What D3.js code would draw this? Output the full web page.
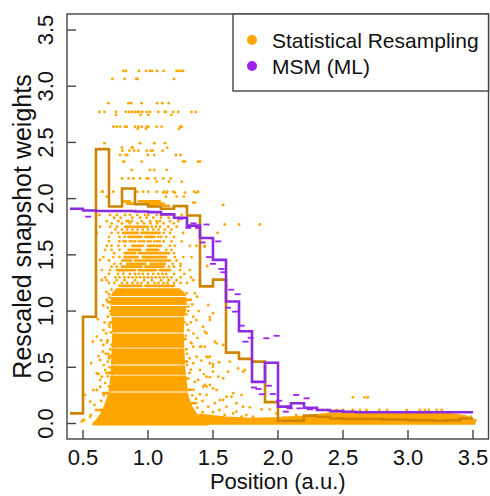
<!DOCTYPE html>
<html>
<head>
<meta charset="utf-8">
<script src="https://cdn.jsdelivr.net/npm/d3@7"></script>
<style>
  body { margin: 0; background: #fff; }
  svg { display: block; font-family: "Liberation Sans", Arial, sans-serif; }
</style>
</head>
<body>
<svg id="chart" width="490" height="496"></svg>
<script>
// step histograms (left bin edges, width 0.1)
const binStarts = [0.4, 0.5, 0.6, 0.7, 0.8, 0.9, 1.0, 1.1, 1.2, 1.3, 1.4, 1.5, 1.6, 1.7, 1.8, 1.9,
  2.0, 2.1, 2.2, 2.3, 2.4, 2.5, 2.6, 2.7, 2.8, 2.9, 3.0, 3.1, 3.2, 3.3, 3.4, 3.5]
const resamplingStep = [0.09, 0.95, 2.44, 1.93, 2.09, 1.95, 1.93, 1.91, 1.935, 1.85, 1.22, 1.28, 0.63, 0.575, 0.55, 0.19,
  0.025, 0.025, 0.07, 0.06, 0.045, 0.04, 0.04, 0.04, 0.035, 0.035, 0.03, 0.03, 0.025, 0.03, 0.045, 0.045]
const msmStep = [1.91, 1.895, 1.89, 1.89, 1.89, 1.885, 1.88, 1.86, 1.83, 1.76, 1.65, 1.455, 1.085, 0.82, 0.37, 0.54,
  0.15, 0.18, 0.14, 0.12, 0.11, 0.105, 0.1, 0.1, 0.1, 0.1, 0.1, 0.1, 0.1, 0.1, 0.1, 0.1]

// dense cloud of resampled snapshots: [y, xLeft, xRight]
const denseCore = [
  [-0.005, 0.58, 1.46], [0.03, 0.61, 1.42], [0.08, 0.64, 1.37], [0.15, 0.67, 1.33],
  [0.25, 0.70, 1.30], [0.35, 0.715, 1.29], [0.50, 0.725, 1.275], [0.65, 0.73, 1.27],
  [0.80, 0.735, 1.265], [0.95, 0.73, 1.27], [1.05, 0.72, 1.29], [1.15, 0.73, 1.28],
  [1.19, 0.76, 1.24]
]
// weight levels with no snapshots inside the dense cloud (white hairlines)
const coreGaps = [0.28, 0.43, 0.52, 0.67, 0.805, 0.95, 1.05, 1.13]
// low weight tail: [x, yTop]
const tailBand = [
  [1.40, 0.075], [1.6, 0.05], [1.8, 0.04], [2.0, 0.045], [2.2, 0.06], [2.4, 0.085],
  [2.6, 0.09], [3.0, 0.09], [3.3, 0.085], [3.45, 0.06], [3.51, 0.02]
]
// horizontal streaks of merged points: [y, x0, x1]
const streaks = [
  [1.975, 0.81, 0.86], [1.975, 0.93, 1.09], [1.955, 0.84, 0.90], [1.955, 0.98, 1.12],
  [1.935, 1.02, 1.06], [1.935, 1.12, 1.16], [1.75, 0.823, 1.0], [1.695, 0.81, 0.92],
  [1.695, 0.95, 1.09], [1.66, 0.85, 0.95], [1.66, 0.98, 1.05],
  [1.58, 0.88, 0.96], [1.58, 1.0, 1.10], [1.545, 0.85, 0.94], [1.545, 0.99, 1.08],
  [1.515, 0.82, 0.90], [1.515, 0.93, 1.16], [1.48, 0.82, 0.92], [1.48, 0.96, 1.14],
  [1.45, 0.80, 0.87], [1.45, 0.90, 1.17], [1.42, 0.84, 0.98], [1.42, 1.02, 1.13],
  [1.395, 0.80, 0.95], [1.395, 0.98, 1.12], [1.365, 0.76, 0.90], [1.365, 0.93, 1.06],
  [1.365, 1.09, 1.17], [1.225, 0.78, 0.95], [1.225, 0.98, 1.20],
  // ragged edges of the dense cloud
  [0.12, 0.60, 0.64], [0.27, 0.655, 0.69], [0.45, 0.68, 0.72], [0.60, 0.70, 0.73],
  [0.90, 0.71, 0.74], [1.08, 0.69, 0.72], [0.30, 1.29, 1.33], [0.55, 1.26, 1.30],
  [0.75, 1.25, 1.29], [0.90, 1.25, 1.28], [1.10, 1.28, 1.33], [0.18, 1.33, 1.37],
  [0.05, 1.40, 1.48], [0.40, 1.27, 1.31], [0.70, 0.72, 0.745], [1.0, 0.71, 0.74]
]
// rows of single points: [y, [x...]]
const dotRows = [
  [3.136, [0.81, 0.83, 0.93, 0.985, 1.015, 1.03, 1.07, 1.12, 1.22, 1.24, 1.26, 1.27]],
  [3.065, [0.726, 0.82, 0.91, 0.92, 1.2]],
  [2.849, [0.695, 0.85, 0.87, 0.95, 1.07, 1.11, 1.16]],
  [2.771, [0.626, 0.665, 0.754, 0.829, 0.854, 0.875, 0.9, 0.92, 0.931, 0.956, 0.99, 1.015, 1.079, 1.13, 1.138, 1.194, 1.233, 1.335, 1.368]],
  [2.745, [0.754, 0.944, 1.002, 1.18]],
  [2.64, [0.734, 0.76, 0.785, 0.823, 0.836, 0.9, 0.926, 0.952, 0.99, 1.003, 1.067, 1.105, 1.246, 1.258]],
  [2.62, [0.921, 0.985, 1.24]],
  [2.493, [0.665, 0.939, 1.048, 1.13]],
  [2.454, [0.8, 0.875, 0.883, 1.148]],
  [2.427, [0.803, 0.857, 0.893, 0.926, 0.99, 1.021, 1.036, 1.113]],
  [2.389, [0.785, 0.829, 0.841, 0.998, 1.048, 1.215, 1.251]],
  [2.33, [0.81, 0.816, 0.952, 1.27, 1.284, 1.386, 1.4]],
  [2.255, [0.875, 1.015, 1.048, 1.143]],
  [2.18, [0.8, 0.85, 0.888, 0.939, 0.99, 1.002, 1.054, 1.117, 1.174]],
  [2.151, [1.067, 1.161, 1.26]],
  [2.062, [0.645, 0.652, 0.734, 0.918, 0.964, 1.002, 1.067, 1.125, 1.148, 1.194, 1.355, 1.386]],
  [2.053, [1.117, 1.143, 1.207, 1.284, 1.373]],
  [2.018, [0.683, 1.138, 1.22, 1.276]],
  [1.964, [1.348, 1.36]],
  [1.944, [1.578]],
  [1.93, [1.2, 1.25, 1.29]],
  [1.855, [0.626, 0.708, 0.76, 0.823, 0.862, 0.918, 0.977, 1.003, 1.067, 1.105, 1.143, 1.207, 1.26]],
  [1.83, [0.74, 0.79, 0.88, 0.94, 0.99, 1.04, 1.1, 1.16, 1.24]],
  [1.80, [0.683, 0.772, 0.836, 0.849, 0.875, 0.952, 1.015, 1.067, 1.092, 1.169, 1.233, 1.3]],
  [1.78, [0.72, 0.8, 0.86, 0.92, 0.97, 1.02, 1.07, 1.12, 1.2]],
  [1.77, [1.59, 1.70, 1.86]],
  [1.75, [0.632, 0.708, 0.76, 1.03, 1.06, 1.092, 1.156, 1.22, 1.31]],
  [1.725, [0.75, 0.8, 0.84, 0.88, 0.92, 0.96, 1.0, 1.04, 1.08, 1.13, 1.18]],
  [1.695, [0.606, 0.72, 0.77, 1.12, 1.169, 1.27, 1.535]],
  [1.66, [0.7, 0.78, 0.82, 1.08, 1.1, 1.14, 1.2]],
  [1.62, [0.7, 0.78, 0.81, 0.83, 0.86, 0.88, 0.9, 0.93, 0.95, 0.97, 1.0, 1.02, 1.05, 1.07, 1.09, 1.12, 1.18, 1.26]],
  [1.58, [0.683, 0.72, 0.772, 0.823, 1.169, 1.207, 1.322, 1.373, 1.437]],
  [1.545, [0.72, 0.78, 1.14, 1.18]],
  [1.515, [0.74, 1.2]],
  [1.48, [0.657, 0.734, 0.78, 1.207, 1.271, 1.335]],
  [1.45, [0.7, 1.22]],
  [1.42, [0.74, 0.79, 1.19, 1.25]],
  [1.40, [1.25, 1.455]],
  [1.395, [0.72, 0.76, 1.16, 1.2]],
  [1.365, [0.645, 0.708, 1.246, 1.322]],
  [1.33, [0.7, 0.77, 0.81, 0.86, 0.9, 0.93, 0.96, 1.0, 1.04, 1.08, 1.11, 1.14, 1.2, 1.28]],
  [1.30, [0.67, 0.75, 0.78, 0.82, 0.85, 0.88, 0.91, 0.94, 0.97, 1.0, 1.03, 1.06, 1.09, 1.12, 1.15, 1.18, 1.25, 1.33]],
  [1.275, [0.645, 0.683, 0.76, 0.82, 0.9, 0.97, 1.03, 1.1, 1.16, 1.22, 1.348, 1.4]],
  [1.25, [0.7, 0.74, 0.8, 0.84, 0.88, 0.92, 0.95, 1.0, 1.05, 1.08, 1.12, 1.15, 1.2, 1.25, 1.3]]
]
// scattered points around the cloud: [x, y]
const scatterDots = [
  [0.576, 0.728], [0.563, 0.536], [0.657, 0.698], [0.652, 0.639], [0.614, 0.927], [0.67, 0.476],
  [0.645, 0.416], [0.606, 0.298], [0.588, 0.165], [0.56, 0.076], [0.509, 0.031], [0.678, 0.802],
  [0.632, 0.387], [0.58, 0.298], [0.555, 0.194], [0.503, 0.031], [0.606, 0.772], [0.632, 0.327],
  [0.516, 0.254], [0.606, 0.447], [0.632, 0.565], [0.657, 0.83], [0.683, 1.099], [0.645, 1.277],
  [0.632, 1.455], [0.67, 1.544], [0.491, 0.016], [0.555, 0.06], [0.69, 0.95], [0.70, 1.15],
  [0.695, 0.62], [0.67, 0.36], [0.64, 0.2], [0.69, 0.55], [0.705, 0.86], [0.685, 0.72],
  [0.70, 0.33], [0.69, 0.42], [0.705, 0.5], [0.70, 0.58], [0.71, 0.66], [0.69, 0.74],
  [0.715, 0.81], [0.70, 0.88], [0.715, 0.97], [0.69, 1.03], [0.705, 1.12], [0.72, 1.19],
  [0.66, 0.52], [0.675, 0.62], [0.665, 0.9], [0.655, 1.05], [0.68, 1.17], [0.64, 0.74],
  [0.62, 0.6], [0.66, 0.25], [0.64, 0.12], [0.62, 0.44],
  [1.29, 0.4], [1.3, 0.52], [1.295, 0.66], [1.29, 0.78], [1.3, 0.88], [1.295, 0.97],
  [1.31, 1.04], [1.3, 1.16], [1.32, 0.58], [1.33, 0.72], [1.33, 0.9], [1.35, 0.8],
  [1.34, 1.06], [1.36, 0.37], [1.35, 0.3], [1.37, 0.22], [1.33, 0.48], [1.38, 0.76],
  [1.39, 1.0], [1.41, 0.56], [1.43, 0.44], [1.4, 0.26], [1.45, 0.33], [1.42, 0.2],
  [1.348, 0.95], [1.378, 1.128], [1.31, 0.83], [1.335, 0.713], [1.374, 0.594], [1.348, 0.536],
  [1.4, 0.476], [1.386, 0.387], [1.424, 0.327], [1.45, 0.254], [1.463, 0.15], [1.437, 0.683],
  [1.424, 0.861], [1.348, 0.683], [1.41, 0.683], [1.45, 0.594], [1.514, 0.728], [1.578, 0.698],
  [1.63, 0.55], [1.693, 0.49], [1.744, 0.476], [1.45, 0.416], [1.476, 0.343], [1.527, 0.298],
  [1.578, 0.209], [1.642, 0.238], [1.604, 0.15], [1.68, 0.105], [1.757, 0.076], [1.72, 0.046],
  [1.373, 0.92], [1.4, 0.683], [1.45, 0.802], [1.476, 0.594], [1.5, 0.505], [1.54, 0.416],
  [1.5, 0.313], [1.4, 1.247], [1.36, 1.158], [1.463, 1.054], [1.476, 0.945],
  [1.5, 0.98], [1.476, 0.92], [1.437, 0.817], [1.527, 0.713], [1.463, 0.589], [1.548, 0.545],
  [1.476, 0.536], [1.5, 0.529], [1.5, 0.461], [1.616, 0.461], [1.731, 0.461], [1.578, 0.402],
  [1.476, 0.411], [1.437, 0.343], [1.655, 0.269], [1.72, 0.254], [1.604, 0.238], [1.553, 0.209],
  [1.514, 0.18], [1.68, 0.18], [1.731, 0.15], [1.783, 0.144], [1.873, 0.126], [1.936, 0.126],
  [1.987, 0.09], [1.655, 0.09], [1.59, 0.076], [1.72, 0.06], [1.808, 0.06], [2.05, 0.055],
  [2.14, 0.076], [2.243, 0.046], [2.307, 0.06], [1.30, 0.62], [1.32, 0.45], [1.31, 1.0],
  [1.34, 0.25], [1.38, 0.14], [1.42, 0.1], [1.5, 0.1], [1.55, 0.12],
  [2.343, 0.12], [2.38, 0.12], [2.45, 0.12], [2.5, 0.12], [2.575, 0.12], [2.63, 0.12],
  [2.68, 0.12], [2.78, 0.12], [2.84, 0.12], [2.99, 0.12], [3.09, 0.12], [3.13, 0.12],
  [3.16, 0.12], [3.22, 0.12], [3.26, 0.12], [2.576, 0.233], [2.665, 0.233], [2.69, 0.233],
  [3.485, 0.06], [3.497, 0.016], [3.517, 0.03], [1.437, 1.573], [1.455, 1.40]
]
// MSM (ML) estimates shown as short dashes: [x, y]
const msmDashes = [
  [0.54, 1.84], [1.25, 1.82], [1.31, 1.74], [1.35, 1.78], [1.385, 1.74], [1.45, 1.77],
  [1.42, 1.61], [1.54, 1.62], [1.47, 1.48], [1.50, 1.42], [1.565, 1.375], [1.58, 1.345],
  [1.64, 1.19], [1.69, 1.15], [1.615, 1.03], [1.67, 0.995], [1.72, 0.87], [1.79, 0.763],
  [1.75, 0.728], [1.91, 0.758], [1.99, 0.78], [1.815, 0.32], [1.85, 0.307], [1.875, 0.26],
  [1.93, 0.336], [1.96, 0.262], [2.01, 0.203], [2.06, 0.105], [2.14, 0.254], [2.22, 0.224],
  [2.165, 0.135], [2.245, 0.126], [2.28, 0.135], [2.09, 0.135]
]

const xTicks = [0.5, 1.0, 1.5, 2.0, 2.5, 3.0, 3.5]
const yTicks = [0.0, 0.5, 1.0, 1.5, 2.0, 2.5, 3.0, 3.5]
const legendItems = [
  { label: 'Statistical Resampling', color: '#FFA500' },
  { label: 'MSM (ML)', color: '#A020F0' }
]

const ORANGE = '#FFA500'
const LINE_ORANGE = '#CD8500'
const LINE_PURPLE = '#8A2BE2'
const DASH_PURPLE = '#A020F0'
const FRAME = '#444'
const plot = { left: 67, right: 488.5, top: 14, bottom: 439 }

const svg = d3.select('#chart')

const x = d3.scaleLinear().domain([0.5, 3.5]).range([83, 473])
const y = d3.scaleLinear().domain([0, 3.5]).range([423.5, 30])

// clip the dense cloud into bands, leaving hairline gaps at empty weight levels
const bandEdges = [-0.1, ...coreGaps, 1.3]
const clip = svg.append('defs').append('clipPath').attr('id', 'core-bands')
clip.selectAll('rect')
  .data(d3.pairs(bandEdges))
  .enter()
  .append('rect')
  .attr('x', plot.left)
  .attr('width', plot.right - plot.left)
  .attr('y', d => y(d[1]) + 0.45)
  .attr('height', d => y(d[0]) - y(d[1]) - 0.9)

const cloud = svg.append('g')

cloud.append('path')
  .datum(denseCore)
  .attr('clip-path', 'url(#core-bands)')
  .attr('d', d3.area().y(d => y(d[0])).x0(d => x(d[1])).x1(d => x(d[2])))
  .attr('fill', ORANGE)
  .attr('stroke', ORANGE)
  .attr('stroke-width', 2.7)
  .attr('stroke-linejoin', 'round')

cloud.append('path')
  .datum(tailBand)
  .attr('d', d3.area().x(d => x(d[0])).y0(y(0)).y1(d => y(d[1])))
  .attr('fill', ORANGE)
  .attr('stroke', ORANGE)
  .attr('stroke-width', 2.7)
  .attr('stroke-linejoin', 'round')

cloud.selectAll('line.streak')
  .data(streaks)
  .enter()
  .append('line')
  .attr('class', 'streak')
  .attr('x1', d => x(d[1]))
  .attr('x2', d => x(d[2]))
  .attr('y1', d => y(d[0]))
  .attr('y2', d => y(d[0]))
  .attr('stroke', ORANGE)
  .attr('stroke-width', 2.7)
  .attr('stroke-linecap', 'round')

const rowPoints = dotRows.flatMap(([yv, xs]) => xs.map(xv => [xv, yv]))
cloud.selectAll('circle')
  .data(rowPoints.concat(scatterDots))
  .enter()
  .append('circle')
  .attr('cx', d => x(d[0]))
  .attr('cy', d => y(d[1]))
  .attr('r', 1.4)
  .attr('fill', ORANGE)

// step lines
const stepLine = d3.line()
  .x((d, i) => x(binStarts[i]))
  .y(d => y(d))
  .curve(d3.curveStepAfter)

svg.append('path')
  .datum(resamplingStep)
  .attr('d', stepLine)
  .attr('fill', 'none')
  .attr('stroke', LINE_ORANGE)
  .attr('stroke-width', 2.6)

svg.append('path')
  .datum(msmStep)
  .attr('d', stepLine)
  .attr('fill', 'none')
  .attr('stroke', LINE_PURPLE)
  .attr('stroke-width', 2.6)

svg.selectAll('line.dash')
  .data(msmDashes)
  .enter()
  .append('line')
  .attr('class', 'dash')
  .attr('x1', d => x(d[0]) - 3)
  .attr('x2', d => x(d[0]) + 3)
  .attr('y1', d => y(d[1]))
  .attr('y2', d => y(d[1]))
  .attr('stroke', DASH_PURPLE)
  .attr('stroke-width', 1.8)

// frame and axes
svg.append('rect')
  .attr('x', plot.left)
  .attr('y', plot.top)
  .attr('width', plot.right - plot.left)
  .attr('height', plot.bottom - plot.top)
  .attr('fill', 'none')
  .attr('stroke', FRAME)
  .attr('stroke-width', 1.4)

const xAxis = svg.append('g')
xAxis.selectAll('line')
  .data(xTicks)
  .enter()
  .append('line')
  .attr('x1', d => x(d)).attr('x2', d => x(d))
  .attr('y1', plot.bottom).attr('y2', plot.bottom - 9)
  .attr('stroke', FRAME).attr('stroke-width', 1.4)
xAxis.selectAll('text')
  .data(xTicks)
  .enter()
  .append('text')
  .attr('x', d => x(d))
  .attr('y', 465)
  .attr('text-anchor', 'middle')
  .attr('font-size', '22px')
  .attr('fill', '#111')
  .text(d => d.toFixed(1))

const yAxis = svg.append('g')
yAxis.selectAll('line')
  .data(yTicks)
  .enter()
  .append('line')
  .attr('y1', d => y(d)).attr('y2', d => y(d))
  .attr('x1', plot.left).attr('x2', plot.left + 9)
  .attr('stroke', FRAME).attr('stroke-width', 1.4)
yAxis.selectAll('text')
  .data(yTicks)
  .enter()
  .append('text')
  .attr('transform', d => `translate(53,${y(d)}) rotate(-90)`)
  .attr('text-anchor', 'middle')
  .attr('font-size', '22px')
  .attr('fill', '#111')
  .text(d => d.toFixed(1))

svg.append('text')
  .attr('x', (plot.left + plot.right) / 2)
  .attr('y', 489)
  .attr('text-anchor', 'middle')
  .attr('font-size', '22px')
  .attr('fill', '#111')
  .text('Position (a.u.)')

svg.append('text')
  .attr('transform', `translate(31,${(plot.top + plot.bottom) / 2}) rotate(-90)`)
  .attr('text-anchor', 'middle')
  .attr('font-size', '25px')
  .attr('fill', '#111')
  .text('Rescaled snapshot weights')

// legend
const legend = svg.append('g')
legend.append('rect')
  .attr('x', 233).attr('y', plot.top)
  .attr('width', plot.right - 233).attr('height', 77)
  .attr('fill', '#fff')
  .attr('stroke', FRAME).attr('stroke-width', 1.4)

const item = legend.selectAll('g.item')
  .data(legendItems)
  .enter()
  .append('g')
  .attr('class', 'item')
  .attr('transform', (d, i) => `translate(0,${40 + i * 26})`)
item.append('circle')
  .attr('cx', 252).attr('cy', 0).attr('r', 5)
  .attr('fill', d => d.color)
item.append('text')
  .attr('x', 272).attr('y', 8)
  .attr('font-size', '21px')
  .attr('fill', '#111')
  .text(d => d.label)
</script>
</body>
</html>
